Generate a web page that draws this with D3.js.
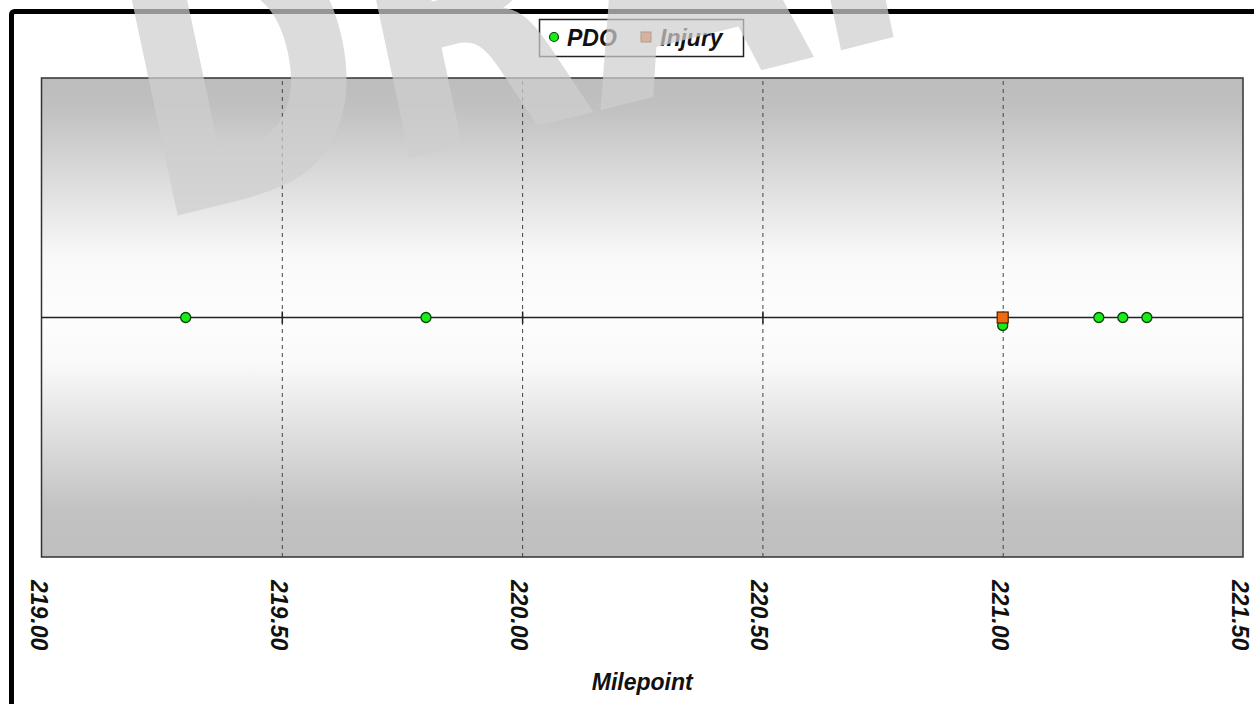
<!DOCTYPE html>
<head>
    <meta charset="utf-8">
    <title>Crashes by Milepoint</title>
    <script src="https://cdn.jsdelivr.net/npm/d3@7"></script>
</head>
<style>
    body { margin: 0; background: #fff; }
    text { font-family: "Liberation Sans", Arial, sans-serif; }
    .tick-label { font-size: 23px; font-weight: bold; font-style: italic; fill: #111; }
    .grid line { stroke: #444; stroke-dasharray: 4,4; stroke-width: 1px; }
</style>
<body>
    <svg></svg>
</body>

<script>
    // crash data
    var pdoMileposts = [219.30, 219.80, 221.00, 221.20, 221.25, 221.30];
    var injuryMileposts = [221.00];
    var seriesNames = ['PDO', 'Injury'];
    var tickValues = [219.00, 219.50, 220.00, 220.50, 221.00, 221.50];
    var xDomain = [219.00, 221.50];

    var vWidth = 1254;
    var vHeight = 704;
    var plot = {left: 41.5, right: 1243, top: 78, bottom: 557};

    var svg = d3.select('svg')
        .attr('width', vWidth)
        .attr('height', vHeight);

    var x = d3.scaleLinear().domain(xDomain).range([plot.left, plot.right]);
    var y = d3.scaleLinear().domain([-1, 1]).range([plot.bottom, plot.top]);

    // gradients for the plot background
    var defs = svg.append('defs');
    var gTop = defs.append('linearGradient').attr('id', 'bgTop')
        .attr('x1', 0).attr('y1', 0).attr('x2', 0).attr('y2', 1);
    gTop.append('stop').attr('offset', '0%').attr('stop-color', '#bdbdbd');
    gTop.append('stop').attr('offset', '12%').attr('stop-color', '#c0c0c0');
    gTop.append('stop').attr('offset', '75%').attr('stop-color', '#f9f9f9');
    gTop.append('stop').attr('offset', '100%').attr('stop-color', '#fdfdfd');
    var gBot = defs.append('linearGradient').attr('id', 'bgBot')
        .attr('x1', 0).attr('y1', 0).attr('x2', 0).attr('y2', 1);
    gBot.append('stop').attr('offset', '0%').attr('stop-color', '#fdfdfd');
    gBot.append('stop').attr('offset', '20%').attr('stop-color', '#f9f9f9');
    gBot.append('stop').attr('offset', '80%').attr('stop-color', '#c2c2c2');
    gBot.append('stop').attr('offset', '100%').attr('stop-color', '#bfbfbf');

    // outer frame
    svg.append('rect')
        .attr('x', 11.5).attr('y', 11.5)
        .attr('width', vWidth + 20).attr('height', vHeight + 20)
        .attr('rx', 3)
        .attr('fill', 'none').attr('stroke', '#000').attr('stroke-width', 5);

    // plot area
    svg.append('rect')
        .attr('x', plot.left).attr('y', y(1))
        .attr('width', plot.right - plot.left).attr('height', y(0) - y(1))
        .attr('fill', 'url(#bgTop)');
    svg.append('rect')
        .attr('x', plot.left).attr('y', y(0))
        .attr('width', plot.right - plot.left).attr('height', y(-1) - y(0))
        .attr('fill', 'url(#bgBot)');

    // vertical dashed grid
    svg.append('g')
        .attr('class', 'grid')
        .attr('transform', 'translate(0,' + plot.bottom + ')')
        .call(d3.axisBottom(x)
            .tickValues(tickValues.slice(1, -1))
            .tickSize(-(plot.bottom - plot.top))
            .tickFormat(''))
        .call(function (g) { g.select('.domain').remove(); });

    svg.append('rect')
        .attr('x', plot.left).attr('y', plot.top)
        .attr('width', plot.right - plot.left).attr('height', plot.bottom - plot.top)
        .attr('fill', 'none').attr('stroke', '#333').attr('stroke-width', 1.5);

    // center line with small ticks
    svg.append('line')
        .attr('x1', plot.left).attr('x2', plot.right)
        .attr('y1', y(0)).attr('y2', y(0))
        .attr('stroke', '#222').attr('stroke-width', 1.5);
    svg.append('g')
        .attr('transform', 'translate(0,' + (y(0) - 6) + ')')
        .call(d3.axisBottom(x).tickValues(tickValues.slice(1, -1)).tickSize(12).tickFormat(''))
        .call(function (g) {
            g.select('.domain').remove();
            g.selectAll('.tick line').attr('stroke', '#222').attr('stroke-width', 1.5);
        });

    // x axis labels
    svg.append('g')
        .attr('transform', 'translate(0,' + plot.bottom + ')')
        .call(d3.axisBottom(x).tickValues(tickValues).tickSize(0).tickFormat(d3.format('.2f')))
        .call(function (g) {
            g.select('.domain').remove();
            g.selectAll('.tick text')
                .attr('class', 'tick-label')
                .attr('font-size', null).attr('font-family', null)
                .attr('text-anchor', 'start')
                .attr('transform', 'translate(0,23) rotate(90)')
                .attr('x', 0).attr('y', 0).attr('dy', '0.5em');
        });

    svg.append('text')
        .attr('x', (plot.left + plot.right) / 2)
        .attr('y', 690)
        .attr('text-anchor', 'middle')
        .style('font-size', '23px').style('font-weight', 'bold').style('font-style', 'italic')
        .attr('fill', '#111')
        .text('Milepoint');

    // points: stack points that share a milepoint
    var points = [];
    injuryMileposts.forEach(function (m) { points.push({mp: m, type: 'Injury'}); });
    pdoMileposts.forEach(function (m) { points.push({mp: m, type: 'PDO'}); });
    var counts = {};
    points.forEach(function (p) {
        var k = p.mp.toFixed(2);
        p.stack = counts[k] || 0;
        counts[k] = p.stack + 1;
    });
    var stackStep = 8;

    svg.append('g').selectAll('circle')
        .data(points.filter(function (p) { return p.type === 'PDO'; }))
        .enter().append('circle')
        .attr('cx', function (d) { return x(d.mp); })
        .attr('cy', function (d) { return y(0) + d.stack * stackStep; })
        .attr('r', 5)
        .attr('fill', '#19ec19').attr('stroke', '#084008').attr('stroke-width', 1.3);

    svg.append('g').selectAll('rect')
        .data(points.filter(function (p) { return p.type === 'Injury'; }))
        .enter().append('rect')
        .attr('x', function (d) { return x(d.mp) - 5.5; })
        .attr('y', function (d) { return y(0) + d.stack * stackStep - 5.5; })
        .attr('width', 11).attr('height', 11)
        .attr('fill', '#f26a10').attr('stroke', '#4a2000').attr('stroke-width', 1.2);

    // legend
    var legend = svg.append('g');
    legend.append('rect')
        .attr('x', 539.5).attr('y', 19.5).attr('width', 204).attr('height', 37)
        .attr('fill', '#fff').attr('stroke', '#222').attr('stroke-width', 1.5);
    legend.append('circle')
        .attr('cx', 554).attr('cy', 37).attr('r', 4.5)
        .attr('fill', '#19ec19').attr('stroke', '#084008').attr('stroke-width', 1.2);
    legend.append('text')
        .attr('x', 567).attr('y', 46)
        .style('font-size', '23px').style('font-weight', 'bold').style('font-style', 'italic')
        .attr('fill', '#111').text(seriesNames[0]);
    legend.append('rect')
        .attr('x', 641).attr('y', 32).attr('width', 10).attr('height', 10)
        .attr('fill', '#f26a10').attr('stroke', '#4a2000').attr('stroke-width', 1);
    legend.append('text')
        .attr('x', 660).attr('y', 46)
        .style('font-size', '23px').style('font-weight', 'bold').style('font-style', 'italic')
        .attr('fill', '#111').text(seriesNames[1]);

    // DRAFT watermark over everything
    svg.append('text')
        .attr('transform', 'translate(152,222) rotate(-14) skewX(-2) scale(0.8,1)')
        .style('font-family', 'DejaVu Sans')
        .style('font-weight', 'bold')
        .style('font-size', '360px')
        .attr('fill', '#cfcfcf').attr('opacity', 0.72)
        .text('DRAFT');
</script>
